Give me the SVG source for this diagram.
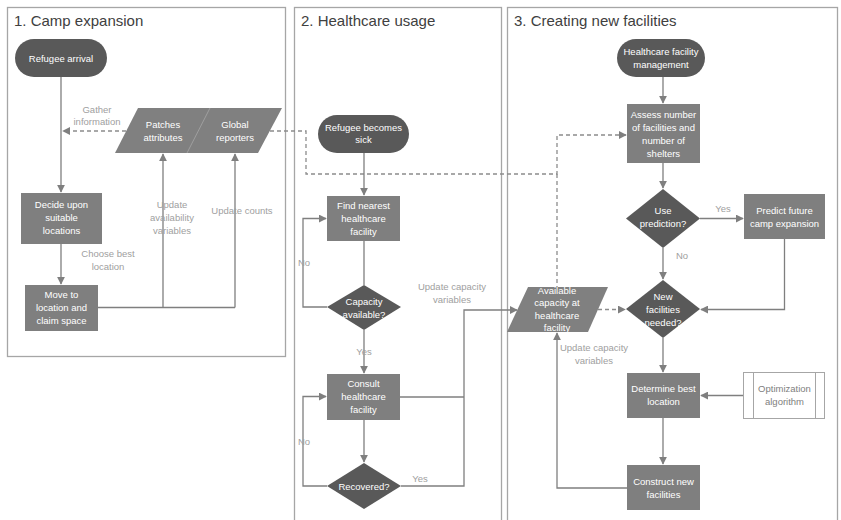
<svg xmlns="http://www.w3.org/2000/svg" width="841" height="520" viewBox="0 0 841 520">
<defs>
<style>
.panel{fill:none;stroke:#a6a6a6;stroke-width:1.3}
.title{font-family:"Liberation Sans",Arial,sans-serif;font-size:15px;fill:#404040}
.term{fill:#595959}
.dia{fill:#595959}
.box{fill:#7f7f7f}
.io{fill:#808080}
.t{font-family:"Liberation Sans",Arial,sans-serif;font-size:9.5px;fill:#ffffff;text-anchor:middle}
.lbl{font-family:"Liberation Sans",Arial,sans-serif;font-size:9.5px;fill:#a0a0a0;text-anchor:middle}
.gt{font-family:"Liberation Sans",Arial,sans-serif;font-size:9.5px;fill:#808080;text-anchor:middle}
.ln{fill:none;stroke:#7f7f7f;stroke-width:1.3}
.dash{fill:none;stroke:#8c8c8c;stroke-width:1.3;stroke-dasharray:4,3}
</style>
<marker id="ah" viewBox="0 0 10 10" refX="9" refY="5" markerWidth="8" markerHeight="8" markerUnits="userSpaceOnUse" orient="auto">
<path d="M0,0 L10,5 L0,10 z" fill="#7f7f7f"/>
</marker>
</defs>
<rect width="841" height="520" fill="#ffffff"/>

<g id="panels">
<rect class="panel" x="7.5" y="7.5" width="278" height="349"/>
<rect class="panel" x="294.5" y="7.5" width="207" height="530"/>
<rect class="panel" x="507.5" y="7.5" width="330" height="530"/>
<text class="title" x="14" y="26">1. Camp expansion</text>
<text class="title" x="301" y="26">2. Healthcare usage</text>
<text class="title" x="514" y="26">3. Creating new facilities</text>
</g>

<g id="connectors">
<!-- panel 1 -->
<path class="ln" d="M61,77 V192" marker-end="url(#ah)"/>
<path class="ln" d="M61,244 V284" marker-end="url(#ah)"/>
<path class="ln" d="M98,307.5 H235"/>
<path class="ln" d="M163,307.5 V154" marker-end="url(#ah)"/>
<path class="ln" d="M235,307.5 V154" marker-end="url(#ah)"/>
<path class="dash" d="M126,131 H63" marker-end="url(#ah)"/>
<path class="dash" d="M270,131 H306 V174 H557 V135 H626" marker-end="url(#ah)"/>
<path class="dash" d="M557,174 V287"/>
<!-- panel 2 -->
<path class="ln" d="M364,153 V195" marker-end="url(#ah)"/>
<path class="ln" d="M364,241 V285"/>
<path class="ln" d="M327,307 H303 V218.5 H326" marker-end="url(#ah)"/>
<path class="ln" d="M364,330 V373" marker-end="url(#ah)"/>
<path class="ln" d="M364,420 V462" marker-end="url(#ah)"/>
<path class="ln" d="M327,486 H303 V396.5 H326" marker-end="url(#ah)"/>
<path class="ln" d="M400,397 H464"/>
<path class="ln" d="M401,486 H464 V310 H517" marker-end="url(#ah)"/>
<!-- panel 3 -->
<path class="ln" d="M663,77 V103" marker-end="url(#ah)"/>
<path class="ln" d="M663,163 V188" marker-end="url(#ah)"/>
<path class="ln" d="M700,218.5 H743" marker-end="url(#ah)"/>
<path class="ln" d="M784.5,239 V309.5 H701" marker-end="url(#ah)"/>
<path class="ln" d="M663,248 V279" marker-end="url(#ah)"/>
<path class="dash" d="M598,309.5 H625" marker-end="url(#ah)"/>
<path class="ln" d="M663,338 V372" marker-end="url(#ah)"/>
<path class="ln" d="M743,395.5 H701" marker-end="url(#ah)"/>
<path class="ln" d="M663,418 V464" marker-end="url(#ah)"/>
<path class="ln" d="M627,488 H557 V333" marker-end="url(#ah)"/>
</g>

<g id="labels">
<text class="lbl" x="97" y="113">Gather</text>
<text class="lbl" x="97" y="125">information</text>
<text class="lbl" x="108" y="257">Choose best</text>
<text class="lbl" x="108" y="270">location</text>
<text class="lbl" x="172" y="208">Update</text>
<text class="lbl" x="172" y="221">availability</text>
<text class="lbl" x="172" y="234">variables</text>
<text class="lbl" x="242" y="214">Update counts</text>
<text class="lbl" x="304" y="266">No</text>
<text class="lbl" x="364" y="355">Yes</text>
<text class="lbl" x="304" y="445">No</text>
<text class="lbl" x="420" y="482">Yes</text>
<text class="lbl" x="452" y="290">Update capacity</text>
<text class="lbl" x="452" y="303">variables</text>
<text class="lbl" x="723" y="212">Yes</text>
<text class="lbl" x="682" y="259">No</text>
<text class="lbl" x="594" y="351">Update capacity</text>
<text class="lbl" x="594" y="364">variables</text>
</g>

<g id="refugee-arrival">
<rect class="term" x="15" y="39" width="92" height="38" rx="19"/>
<text class="t" x="61" y="61.5">Refugee arrival</text>
</g>
<g id="data-store">
<polygon class="io" points="138,108 282,108 258,153 115,153"/>
<line x1="210" y1="108" x2="187" y2="153" stroke="#a6a6a6" stroke-width="0.8"/>
<text class="t" x="163" y="128">Patches</text>
<text class="t" x="163" y="141">attributes</text>
<text class="t" x="235" y="128">Global</text>
<text class="t" x="235" y="141">reporters</text>
</g>
<g id="decide">
<rect class="box" x="21" y="193" width="81" height="51"/>
<text class="t" x="61.5" y="208">Decide upon</text>
<text class="t" x="61.5" y="221">suitable</text>
<text class="t" x="61.5" y="234">locations</text>
</g>
<g id="move">
<rect class="box" x="25" y="285" width="73" height="46"/>
<text class="t" x="61.5" y="298">Move to</text>
<text class="t" x="61.5" y="311">location and</text>
<text class="t" x="61.5" y="324">claim space</text>
</g>

<g id="refugee-sick">
<rect class="term" x="318" y="115" width="91" height="38" rx="19"/>
<text class="t" x="363.5" y="131">Refugee becomes</text>
<text class="t" x="363.5" y="143">sick</text>
</g>
<g id="find-nearest">
<rect class="box" x="327" y="196" width="73" height="45"/>
<text class="t" x="363.5" y="209">Find nearest</text>
<text class="t" x="363.5" y="222">healthcare</text>
<text class="t" x="363.5" y="235">facility</text>
</g>
<g id="capacity-available">
<polygon class="dia" points="364,285 401,307 364,330 327,307"/>
<text class="t" x="364" y="305">Capacity</text>
<text class="t" x="364" y="318">available?</text>
</g>
<g id="consult">
<rect class="box" x="327" y="374" width="73" height="46"/>
<text class="t" x="363.5" y="387">Consult</text>
<text class="t" x="363.5" y="400">healthcare</text>
<text class="t" x="363.5" y="413">facility</text>
</g>
<g id="recovered">
<polygon class="dia" points="364,463 401,486 364,509 327,486"/>
<text class="t" x="364" y="489.5">Recovered?</text>
</g>

<g id="facility-management">
<rect class="term" x="617" y="39" width="88" height="38" rx="19"/>
<text class="t" x="661" y="55">Healthcare facility</text>
<text class="t" x="661" y="68">management</text>
</g>
<g id="assess">
<rect class="box" x="627" y="104" width="73" height="59"/>
<text class="t" x="663.5" y="118">Assess number</text>
<text class="t" x="663.5" y="131">of facilities and</text>
<text class="t" x="663.5" y="144">number of</text>
<text class="t" x="663.5" y="157">shelters</text>
</g>
<g id="use-prediction">
<polygon class="dia" points="663,189 700,218.5 663,248 626,218.5"/>
<text class="t" x="663" y="214">Use</text>
<text class="t" x="663" y="227">prediction?</text>
</g>
<g id="predict">
<rect class="box" x="744" y="194" width="81" height="45"/>
<text class="t" x="784.5" y="214">Predict future</text>
<text class="t" x="784.5" y="227">camp expansion</text>
</g>
<g id="available-capacity">
<polygon class="io" points="528,287 608,287 588,332 507,332"/>
<text class="t" x="557" y="294">Available</text>
<text class="t" x="557" y="306">capacity at</text>
<text class="t" x="557" y="319">healthcare</text>
<text class="t" x="557" y="331">facility</text>
</g>
<g id="new-facilities">
<polygon class="dia" points="663,280 700,309 663,338 626,309"/>
<text class="t" x="663" y="300">New</text>
<text class="t" x="663" y="313">facilities</text>
<text class="t" x="663" y="326">needed?</text>
</g>
<g id="determine">
<rect class="box" x="627" y="373" width="73" height="45"/>
<text class="t" x="663.5" y="392">Determine best</text>
<text class="t" x="663.5" y="405">location</text>
</g>
<g id="optimization">
<rect x="743.5" y="372.5" width="81" height="46" fill="#ffffff" stroke="#a6a6a6" stroke-width="1"/>
<line x1="753.5" y1="372.5" x2="753.5" y2="418.5" stroke="#a6a6a6" stroke-width="1"/>
<line x1="815.5" y1="372.5" x2="815.5" y2="418.5" stroke="#a6a6a6" stroke-width="1"/>
<text class="gt" x="784.5" y="392">Optimization</text>
<text class="gt" x="784.5" y="405">algorithm</text>
</g>
<g id="construct">
<rect class="box" x="627" y="465" width="73" height="45"/>
<text class="t" x="663.5" y="485">Construct new</text>
<text class="t" x="663.5" y="498">facilities</text>
</g>
</svg>
